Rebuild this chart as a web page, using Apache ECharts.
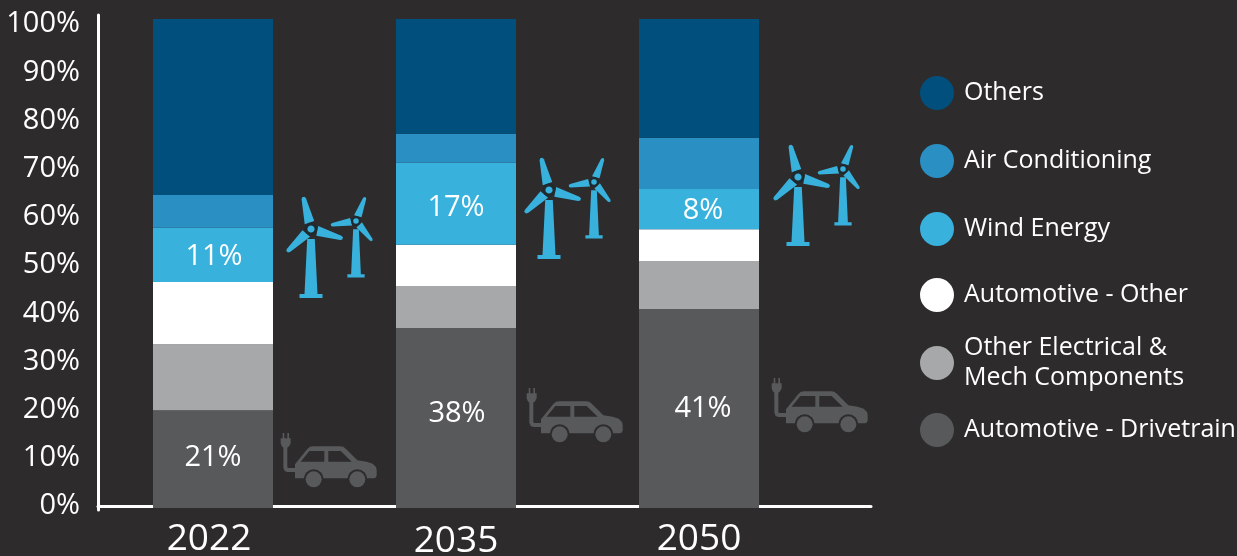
<!DOCTYPE html>
<html>
<head>
<meta charset="utf-8">
<title>Copper demand by end use</title>
<style>
  html, body { margin: 0; padding: 0; background: #2d2b2c; }
  #main { width: 1237px; height: 556px; }
</style>
<script src="https://cdn.jsdelivr.net/npm/echarts@6/dist/echarts.min.js"></script>
</head>
<body>
<div id="main"></div>
<script>
var years = ['2022', '2035', '2050'];
var yTicks = [0, 10, 20, 30, 40, 50, 60, 70, 80, 90, 100];

var drivetrain = [20, 36.8, 40.7];
var otherElectrical = [13.5, 8.6, 9.8];
var automotiveOther = [12.7, 8.4, 6.5];
var windEnergy = [11.1, 16.8, 8.2];
var airConditioning = [6.7, 5.9, 10.5];
var others = [36, 23.5, 24.3];

var drivetrainLabels = ['21%', '38%', '41%'];
var windLabels = ['11%', '17%', '8%'];

var BG = '#2d2b2c';
var FONT = '"Open Sans", "Noto Sans", sans-serif';
var C_OTHERS = '#004f7d', C_AC = '#2a8fc3', C_WIND = '#38b1dc';
var C_AUTO = '#ffffff', C_ELEC = '#a7a8aa', C_DRIVE = '#58595b';

// labels in the picture are not quite centred in their bars
var drivetrainOffsets = [[0, -1], [1, -4], [4, 0]];
var windOffsets = [[1, 2], [0, 4], [4, 2]];
var yearPaddings = [[0, 8, 0, 0], [2, 0, 0, 0], [0, 0, 0, 0]];

function stackSeries(name, data, color, labels, offsets) {
    var s = {
        name: name,
        type: 'bar',
        stack: 'total',
        barWidth: 120,
        data: data,
        itemStyle: { color: color },
        emphasis: { disabled: true }
    };
    if (labels) {
        s.data = data.map(function (v, i) {
            return { value: v, label: { offset: offsets[i] } };
        });
        s.label = {
            show: true,
            position: 'inside',
            color: '#fff',
            fontFamily: FONT,
            fontSize: 29,
            formatter: function (p) { return labels[p.dataIndex]; }
        };
    }
    return s;
}

// one legend per item, the spacing in the picture is not regular
function legendItem(name, top) {
    return {
        data: [name],
        left: 920,
        top: top,
        padding: 0,
        orient: 'vertical',
        icon: 'circle',
        itemWidth: 34,
        itemHeight: 34,
        itemGap: 0,
        selectedMode: false,
        textStyle: { color: '#fff', fontFamily: FONT, fontSize: 25, lineHeight: 30, padding: [0, 0, 0, 5] }
    };
}

// icons are only decoration, polygons around their own origin
var BLADE = [[-5, -6], [-2.2, -31], [-1.2, -33], [1.2, -33], [2.2, -31], [5, -7]];
var TOWER = [[-3.8, 10], [3.8, 10], [6.5, 65], [11.5, 65], [11.5, 69], [-11.5, 69], [-11.5, 65], [-6.5, 65]];

function turbine(x, y, scale, towerX, towerY, angle) {
    var blades = [0, 120, 240].map(function (a) {
        return {
            type: 'polygon',
            shape: { points: BLADE },
            rotation: (angle + a) * Math.PI / 180,
            style: { fill: C_WIND }
        };
    });
    return {
        type: 'group',
        x: x,
        y: y,
        children: [
            { type: 'polygon', shape: { points: TOWER }, scaleX: towerX, scaleY: towerY, style: { fill: C_WIND } },
            { type: 'group', scaleX: scale, scaleY: scale, children: blades },
            { type: 'circle', shape: { r: 5 * scale }, style: { fill: C_WIND, stroke: '#1f2a30', lineWidth: 2.8 * scale } }
        ]
    };
}

var CAR_BODY = [[75, 118], [112, 72], [120, 65], [130, 64], [210, 64], [220, 65], [228, 72], [262, 106], [290, 110], [308, 116], [318, 126], [320, 135], [320, 152], [316, 159], [310, 160], [75, 160]];
var PLUG = [[38, 24], [43, 24], [43, 40], [52, 40], [52, 24], [57, 24], [57, 40], [62, 40], [62, 55], [58, 63], [52, 68], [52, 125], [53, 128], [56, 129], [78, 129], [78, 141], [52, 141], [44, 138], [40, 128], [40, 68], [35, 63], [32, 55], [32, 40], [38, 40]];
var WINDOW_BACK = [[92, 110], [118, 78], [163, 78], [163, 110]];
var WINDOW_FRONT = [[175, 78], [212, 78], [245, 110], [175, 110]];

function car(x, y) {
    function wheel(cx) {
        return [
            { type: 'circle', shape: { cx: cx, cy: 163, r: 30 }, style: { fill: BG } },
            { type: 'circle', shape: { cx: cx, cy: 163, r: 24 }, style: { fill: C_DRIVE } }
        ];
    }
    return {
        type: 'group',
        x: x,
        y: y,
        scaleX: 1 / 3,
        scaleY: 1 / 3,
        children: [
            { type: 'polygon', shape: { points: PLUG }, style: { fill: C_DRIVE } },
            { type: 'polygon', shape: { points: CAR_BODY }, style: { fill: C_DRIVE } },
            { type: 'polygon', shape: { points: WINDOW_BACK }, style: { fill: BG } },
            { type: 'polygon', shape: { points: WINDOW_FRONT }, style: { fill: BG } }
        ].concat(wheel(131), wheel(262))
    };
}

var chart = echarts.init(document.getElementById('main'));

var option = {
    backgroundColor: BG,
    animation: false,
    color: [C_DRIVE, C_ELEC, C_AUTO, C_WIND, C_AC, C_OTHERS],
    legend: [
        legendItem('Others', 76),
        legendItem('Air Conditioning', 144),
        legendItem('Wind Energy', 212),
        legendItem('Automotive - Other', 278),
        legendItem('Other Electrical &\nMech Components', 333),
        legendItem('Automotive - Drivetrain', 413)
    ],
    grid: [
        { left: 91.5, width: 729, top: 14, height: 494, outerBoundsMode: 'none' },
        { left: 98, width: 773, top: 15, height: 495, outerBoundsMode: 'none' }
    ],
    xAxis: [
        {
            type: 'category',
            gridIndex: 0,
            data: years.map(function (y, i) {
                return { value: y, textStyle: { padding: yearPaddings[i] } };
            }),
            axisLine: { show: false },
            axisTick: { show: false },
            axisLabel: { color: '#fff', fontFamily: FONT, fontSize: 37, margin: 13 }
        },
        {
            type: 'value',
            gridIndex: 1,
            min: 0,
            max: 1,
            splitLine: { show: false },
            axisTick: { show: false },
            axisLabel: { show: false },
            axisLine: { lineStyle: { color: '#fff', width: 3 } }
        }
    ],
    yAxis: [
        { type: 'value', gridIndex: 0, min: 0, max: 101, show: false },
        {
            type: 'value',
            gridIndex: 1,
            min: -0.8,
            max: 101.9,
            splitLine: { show: false },
            axisTick: { show: false },
            axisLine: { show: true, onZero: false, lineStyle: { color: '#fff', width: 3 } },
            axisLabel: {
                customValues: yTicks,
                formatter: '{value}%',
                color: '#fff',
                fontFamily: FONT,
                fontSize: 29,
                margin: 18
            }
        }
    ],
    series: [
        stackSeries('Automotive - Drivetrain', drivetrain, C_DRIVE, drivetrainLabels, drivetrainOffsets),
        stackSeries('Other Electrical &\nMech Components', otherElectrical, C_ELEC),
        stackSeries('Automotive - Other', automotiveOther, C_AUTO),
        stackSeries('Wind Energy', windEnergy, C_WIND, windLabels, windOffsets),
        stackSeries('Air Conditioning', airConditioning, C_AC),
        stackSeries('Others', others, C_OTHERS)
    ],
    graphic: [
        turbine(311, 229, 1, 1, 1, 13.5),
        turbine(356, 221, 0.77, 0.75, 0.82, -21),
        turbine(549, 190, 1, 1, 1, 13.5),
        turbine(594, 182, 0.77, 0.75, 0.82, -21),
        turbine(798, 177, 1, 1, 1, 13.5),
        turbine(843, 169, 0.77, 0.75, 0.82, -21),
        car(270, 425),
        car(516, 380),
        car(761, 370)
    ]
};

chart.setOption(option);
</script>
</body>
</html>
